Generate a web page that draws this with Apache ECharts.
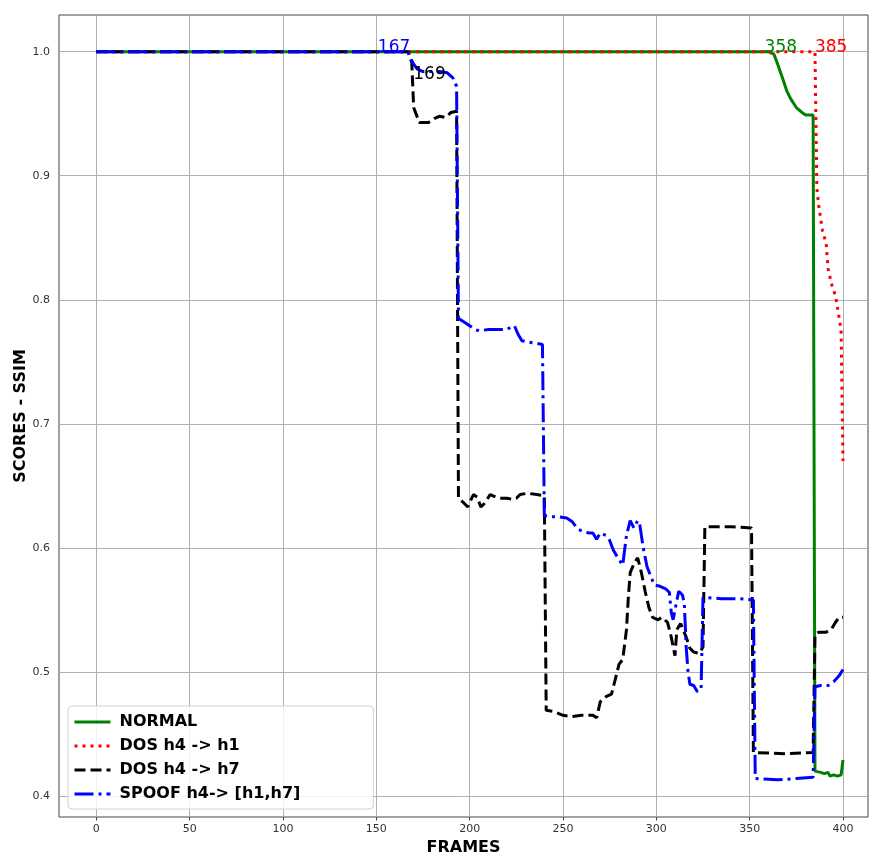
<!DOCTYPE html>
<html>
<head>
<meta charset="utf-8">
<script src="https://cdn.jsdelivr.net/npm/echarts@6/dist/echarts.min.js"></script>
<style>
html,body{margin:0;padding:0;background:#fff;}
#chart{width:869px;height:855px;}
</style>
</head>
<body>
<div id="chart"></div>
<script>
// ---- data ----
const xTicks = [0, 50, 100, 150, 200, 250, 300, 350, 400];
const yTicks = [0.4, 0.5, 0.6, 0.7, 0.8, 0.9, 1.0];

const normalFrames = [0, 358, 360, 363, 365, 368, 370, 372, 375, 378, 380, 384, 385, 386, 388, 390, 392, 393, 395, 397, 399, 400];
const normalValues = [1.0, 1.0, 1.0, 0.998, 0.99, 0.977, 0.968, 0.962, 0.955, 0.951, 0.949, 0.949, 0.42, 0.42, 0.419, 0.418, 0.419, 0.416, 0.417, 0.416, 0.417, 0.429];

const dosH1Frames = [0, 385, 386, 387, 389, 391, 392, 394, 396, 398, 399, 400];
const dosH1Values = [1.0, 1.0, 0.89, 0.876, 0.856, 0.845, 0.825, 0.812, 0.803, 0.785, 0.775, 0.67];

const dosH7Frames = [0, 167, 169, 170, 173, 178, 181, 184, 187, 190, 193, 194, 197, 199, 202, 204, 206, 208, 211, 214, 217, 220, 223, 225, 227, 231, 236, 240, 241, 245, 250, 255, 260, 266, 268, 270, 273, 276, 278, 280, 282, 284, 285, 286, 288, 290, 292, 294, 296, 298, 301, 303, 306, 308, 310, 311, 313, 316, 318, 320, 323, 325, 326, 340, 351, 352, 370, 384, 385, 387, 391, 394, 396, 398, 400];
const dosH7Values = [1.0, 1.0, 0.991, 0.955, 0.943, 0.943, 0.946, 0.948, 0.947, 0.951, 0.952, 0.64, 0.636, 0.633, 0.643, 0.641, 0.633, 0.636, 0.643, 0.641, 0.64, 0.64, 0.639, 0.64, 0.643, 0.644, 0.643, 0.642, 0.469, 0.468, 0.465, 0.464, 0.465, 0.465, 0.463, 0.476, 0.48, 0.482, 0.494, 0.506, 0.51, 0.534, 0.56, 0.58, 0.587, 0.592, 0.58, 0.565, 0.552, 0.544, 0.542, 0.544, 0.54, 0.528, 0.513, 0.534, 0.539, 0.528, 0.519, 0.516, 0.515, 0.52, 0.617, 0.617, 0.616, 0.435, 0.434, 0.435, 0.53, 0.532, 0.532, 0.535, 0.54, 0.544, 0.544];

const spoofFrames = [0, 167, 168, 170, 172, 175, 184, 188, 191, 193, 194, 197, 200, 203, 205, 210, 216, 220, 222, 224, 226, 228, 231, 235, 239, 240, 244, 248, 252, 255, 258, 261, 264, 266, 268, 270, 273, 275, 277, 279, 282, 284, 286, 288, 290, 291, 293, 295, 297, 299, 302, 305, 307, 308, 309, 310, 312, 314, 315, 316, 317, 318, 320, 322, 324, 325, 335, 345, 352, 353, 365, 375, 384, 385, 388, 392, 395, 398, 400];
const spoofValues = [1.0, 1.0, 0.996, 0.99, 0.986, 0.984, 0.984, 0.983, 0.979, 0.972, 0.785, 0.782, 0.779, 0.776, 0.775, 0.776, 0.776, 0.776, 0.778, 0.779, 0.772, 0.767, 0.766, 0.765, 0.764, 0.626, 0.625, 0.625, 0.624, 0.621, 0.615, 0.613, 0.612, 0.612, 0.607, 0.612, 0.61, 0.606, 0.598, 0.593, 0.586, 0.61, 0.622, 0.616, 0.622, 0.62, 0.6, 0.585, 0.577, 0.57, 0.569, 0.567, 0.564, 0.548, 0.542, 0.55, 0.565, 0.562, 0.555, 0.52, 0.5, 0.49, 0.489, 0.484, 0.487, 0.56, 0.559, 0.559, 0.558, 0.414, 0.413, 0.414, 0.415, 0.488, 0.489, 0.489, 0.492, 0.497, 0.502];

const seriesNames = ['NORMAL', 'DOS h4 -> h1', 'DOS h4 -> h7', 'SPOOF h4-> [h1,h7]'];
// annotations: [label, frame, score]
const annNormal = ['358', 358, 1.0];
const annDosH1 = ['385', 385, 1.0];
const annDosH7 = ['169', 169.8, 0.978];
const annSpoof = ['167', 150.8, 1.0];

// ---- helpers ----
const zip = (xs, ys) => xs.map((x, i) => [x, ys[i]]);
const FONT = 'DejaVu Sans';
function ann(a, color) {
  return {
    symbol: 'circle', symbolSize: 0, silent: true, animation: false, z: 6,
    data: [{
      coord: [a[1], a[2]], value: a[0],
      label: {
        show: true, formatter: a[0], position: [0, 0], offset: [0, 4],
        align: 'left', verticalAlign: 'bottom',
        color: color, fontFamily: FONT, fontSize: 17
      }
    }]
  };
}

const chart = echarts.init(document.getElementById('chart'), null, {renderer: 'canvas'});
const option = {
  animation: false,
  backgroundColor: '#fff',
  grid: {left: 59, top: 15, right: 1, bottom: 38, show: true, borderColor: '#444', borderWidth: 1,
    backgroundColor: 'transparent', outerBoundsMode: 'none', containLabel: false},
  xAxis: {
    type: 'value', min: -20, max: 413.4,
    name: 'FRAMES', nameLocation: 'middle', nameGap: 22,
    nameTextStyle: {fontFamily: FONT, fontSize: 16, fontWeight: 'bold', color: '#000'},
    axisLine: {show: false},
    splitLine: {show: false},
    axisTick: {show: true, customValues: xTicks, length: 3.5, lineStyle: {color: '#444'}},
    axisLabel: {customValues: xTicks, margin: 7, fontFamily: FONT, fontSize: 11, color: '#333'}
  },
  yAxis: {
    type: 'value', min: 0.383, max: 1.0296,
    name: 'SCORES - SSIM', nameLocation: 'middle', nameGap: 30, nameRotate: 90, nameMoveOverlap: false,
    nameTextStyle: {fontFamily: FONT, fontSize: 16, fontWeight: 'bold', color: '#000'},
    axisLine: {show: false},
    splitLine: {show: false},
    axisTick: {show: true, customValues: yTicks, length: 3.5, lineStyle: {color: '#444'}},
    axisLabel: {customValues: yTicks, margin: 9, fontFamily: FONT, fontSize: 11, color: '#333',
      formatter: v => Number(v).toFixed(1)}
  },
  legend: {
    data: seriesNames, orient: 'vertical', left: 68, top: 706, z: 10,
    itemWidth: 36, itemHeight: 14, itemGap: 8,
    padding: [8, 73, 7, 5],
    itemStyle: {opacity: 0},
    lineStyle: {width: 3},
    backgroundColor: 'rgba(255,255,255,0.85)', borderColor: '#d0d0d0', borderWidth: 1, borderRadius: 4,
    textStyle: {fontFamily: FONT, fontSize: 16, fontWeight: 'bold', color: '#000', padding: [0, 0, 0, 4]}
  },
  series: [
    {
      name: 'grid', type: 'line', data: [], z: 1, silent: true,
      markLine: {
        silent: true, symbol: ['none', 'none'], animation: false, z: 1,
        label: {show: false},
        lineStyle: {color: '#b0b0b0', width: 1, type: 'solid'},
        data: xTicks.map(v => ({xAxis: v})).concat(yTicks.map(v => ({yAxis: v})))
      }
    },
    {
      name: seriesNames[0], type: 'line', data: zip(normalFrames, normalValues), z: 3,
      symbol: 'none', color: '#008000',
      lineStyle: {color: '#008000', width: 3, type: 'solid', cap: 'butt'},
      markPoint: ann(annNormal, '#008000')
    },
    {
      name: seriesNames[1], type: 'line', data: zip(dosH1Frames, dosH1Values), z: 3,
      symbol: 'none', color: '#ff0000',
      lineStyle: {color: '#ff0000', width: 3, type: [3, 5], cap: 'butt'},
      markPoint: ann(annDosH1, '#ff0000')
    },
    {
      name: seriesNames[2], type: 'line', data: zip(dosH7Frames, dosH7Values), z: 3,
      symbol: 'none', color: '#000000',
      lineStyle: {color: '#000000', width: 3, type: [11, 5], cap: 'butt'},
      markPoint: ann(annDosH7, '#000000')
    },
    {
      name: seriesNames[3], type: 'line', data: zip(spoofFrames, spoofValues), z: 3,
      symbol: 'none', color: '#0000ff',
      lineStyle: {color: '#0000ff', width: 3, type: [19, 5, 3, 5], cap: 'butt'},
      markPoint: ann(annSpoof, '#0000ff')
    }
  ]
};
chart.setOption(option);
</script>
</body>
</html>
